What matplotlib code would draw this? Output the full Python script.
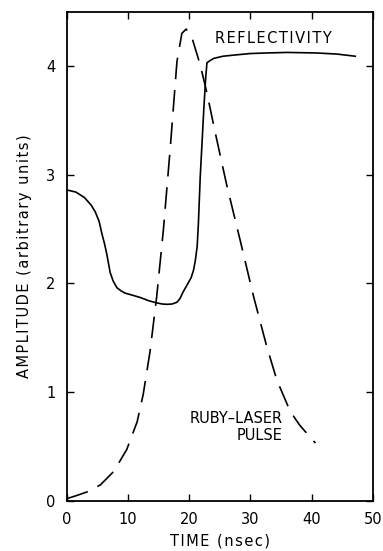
import matplotlib
matplotlib.use("Agg")
import matplotlib.pyplot as plt

# Reflectivity (solid)
refl_t = [0.0, 1.5, 2.9, 4.0, 4.65, 5.3, 5.74, 6.2, 6.55, 7.1, 7.6, 8.2, 8.9, 9.55, 10.8,
          12.0, 13.4, 14.7, 15.6, 16.4, 17.2, 18.0, 18.5, 19.0, 19.7, 20.3, 20.7, 21.0,
          21.3, 21.5, 21.8, 22.1, 22.4, 22.7, 22.9, 23.4, 24.0, 25.5, 27.2, 30.0, 32.6,
          36.0, 40.8, 44.1, 47.1]
refl_a = [2.86, 2.84, 2.79, 2.72, 2.66, 2.57, 2.46, 2.36, 2.27, 2.10, 2.02, 1.96, 1.93, 1.91, 1.89,
          1.87, 1.84, 1.82, 1.81, 1.807, 1.81, 1.826, 1.86, 1.92, 1.99, 2.05, 2.12, 2.21,
          2.34, 2.55, 2.98, 3.30, 3.62, 3.90, 4.03, 4.05, 4.07, 4.09, 4.10, 4.115, 4.12,
          4.125, 4.12, 4.11, 4.09]

# Ruby-laser pulse (dashed)
pulse_t = [0.1, 1.5, 3.3, 5.5, 7.7, 9.8, 11.5, 12.5, 13.6, 14.7, 15.8, 16.9, 18.0, 18.8,
           19.5, 20.4, 21.8, 22.9, 24.2, 26.1, 28.3, 30.5, 32.6, 34.3, 36.5, 38.1, 40.6]
pulse_a = [0.02, 0.045, 0.08, 0.145, 0.27, 0.47, 0.725, 0.98, 1.37, 1.88, 2.50, 3.24, 4.04, 4.30,
           4.34, 4.27, 4.01, 3.75, 3.40, 2.91, 2.40, 1.88, 1.43, 1.11, 0.82, 0.69, 0.53]

x_ticks = [0, 10, 20, 30, 40, 50]
y_ticks = [0, 1, 2, 3, 4]


def spaced(s):
    # old plotter lettering is set wide
    return "\u200a".join(s)


fig = plt.figure(figsize=(3.83, 5.51), dpi=100)
ax = fig.add_axes([0.174, 0.0913, 0.800, 0.8875])

ax.plot(refl_t, refl_a, color="black", lw=1.2)
ax.plot(pulse_t, pulse_a, color="black", lw=1.2, linestyle=(0, (13, 6.5)))

ax.set_xlim(0, 50)
ax.set_ylim(0, 4.5)
ax.set_xticks(x_ticks)
ax.set_yticks(y_ticks)
ax.tick_params(direction="in", length=5, width=1, top=True, right=True,
               labelsize=10.5, pad=8)
for s in ax.spines.values():
    s.set_linewidth(1.3)

ax.set_xlabel(spaced("TIME (nsec)"), fontsize=10.5, labelpad=5)
ax.set_ylabel(spaced("AMPLITUDE (arbitrary units)"), fontsize=10.5, labelpad=10)

ax.text(33.8, 4.25, spaced("REFLECTIVITY"), fontsize=10.5,
        ha="center", va="center")
ax.text(35.3, 0.758, "RUBY\u2013LASER", fontsize=10.5, ha="right", va="center")
ax.text(35.3, 0.597, "PULSE", fontsize=10.5, ha="right", va="center")

fig.savefig("out.png", dpi=100)
